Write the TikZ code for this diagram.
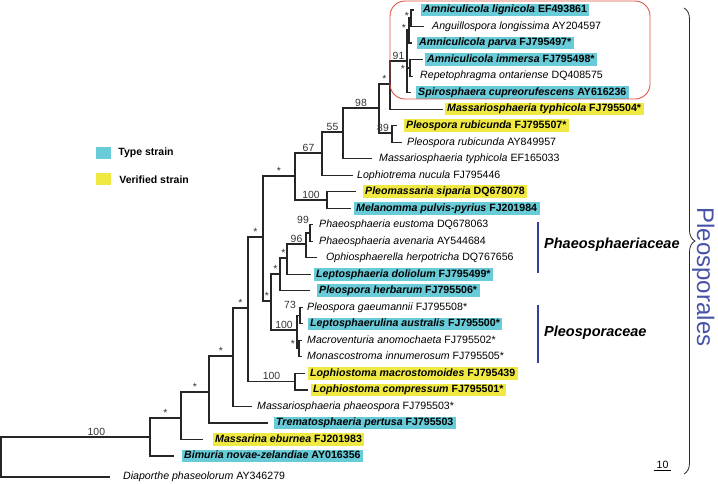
\documentclass[tikz,border=0pt]{standalone}
\usepackage{fontspec}
\setmainfont{Liberation Sans}
\usepackage{tikz}
\usetikzlibrary{positioning, calc, decorations.pathreplacing}

\definecolor{typecyan}{RGB}{104,203,216}
\definecolor{veryellow}{RGB}{240,233,66}
\definecolor{cladered}{RGB}{222,84,72}
\definecolor{famblue}{RGB}{52,64,158}
\definecolor{ordblue}{RGB}{72,82,166}

\newcommand{\leaffont}{\fontsize{10.6}{12}\selectfont}
\newcommand{\supfont}{\fontsize{10.4}{12}\selectfont}
\newcommand{\taxon}[2]{\textit{#1} #2}
\newcommand{\taxonb}[2]{\textbf{\textit{#1} #2}}

\begin{document}
\begin{tikzpicture}[x=1pt, y=-1pt,
    branch/.style={line width=1.1pt, draw=black!85},
    leaf/.style={anchor=west, inner xsep=2.5pt, inner ysep=1.3pt,
      text height=7.9pt, text depth=2.2pt, font=\leaffont},
    typeleaf/.style={leaf, fill=typecyan},
    verleaf/.style={leaf, fill=veryellow},
    support/.style={font=\supfont, text=black!80, inner sep=1.2pt, above, pos=.75},
    supportat/.style={font=\supfont, text=black!80, inner sep=0pt},
    famline/.style={line width=2.2pt, draw=famblue},
    famlabel/.style={anchor=west, inner sep=0pt,
      font=\fontsize{14.5}{16}\selectfont\bfseries\itshape},
    swatch/.style={minimum width=15pt, minimum height=12pt, inner sep=0pt},
    keytext/.style={inner sep=0pt, font=\fontsize{10.5}{12}\selectfont\bfseries}]

  \useasboundingbox (0,0) rectangle (718,483);

  % --- Leaves ---
  \node[typeleaf] (l1) at (420.5,10) {\taxonb{Amniculicola lignicola}{EF493861}};
  \node[leaf] (l2) at (429.5,26.5) {\taxon{Anguillospora longissima}{AY204597}};
  \node[typeleaf] (l3) at (416.5,43) {\taxonb{Amniculicola parva}{FJ795497*}};
  \node[typeleaf] (l4) at (424.5,59.6) {\taxonb{Amniculicola immersa}{FJ795498*}};
  \node[leaf] (l5) at (417.5,76.1) {\taxon{Repetophragma ontariense}{DQ408575}};
  \node[typeleaf] (l6) at (415.5,92.6) {\taxonb{Spirosphaera cupreorufescens}{AY616236}};
  \node[verleaf] (l7) at (444.5,109.1) {\taxonb{Massariosphaeria typhicola}{FJ795504*}};
  \node[verleaf] (l8) at (403.5,125.6) {\taxonb{Pleospora rubicunda}{FJ795507*}};
  \node[leaf] (l9) at (404.5,142.2) {\taxon{Pleospora rubicunda}{AY849957}};
  \node[leaf] (l10) at (376.5,158.7) {\taxon{Massariosphaeria typhicola}{EF165033}};
  \node[leaf] (l11) at (354.5,175.2) {\taxon{Lophiotrema nucula}{FJ795446}};
  \node[verleaf] (l12) at (362.5,191.7) {\taxonb{Pleomassaria siparia}{DQ678078}};
  \node[typeleaf] (l13) at (353.5,208.2) {\taxonb{Melanomma pulvis-pyrius}{FJ201984}};
  \node[leaf] (l14) at (316.5,224.8) {\taxon{Phaeosphaeria eustoma}{DQ678063}};
  \node[leaf] (l15) at (316.5,241.3) {\taxon{Phaeosphaeria avenaria}{AY544684}};
  \node[leaf] (l16) at (323.5,257.8) {\taxon{Ophiosphaerella herpotricha}{DQ767656}};
  \node[typeleaf] (l17) at (313.5,274.3) {\taxonb{Leptosphaeria doliolum}{FJ795499*}};
  \node[typeleaf] (l18) at (316.5,290.8) {\taxonb{Pleospora herbarum}{FJ795506*}};
  \node[leaf] (l19) at (304.5,307.4) {\taxon{Pleospora gaeumannii}{FJ795508*}};
  \node[typeleaf] (l20) at (307.5,323.9) {\taxonb{Leptosphaerulina australis}{FJ795500*}};
  \node[leaf] (l21) at (304.5,340.4) {\taxon{Macroventuria anomochaeta}{FJ795502*}};
  \node[leaf] (l22) at (304.5,356.9) {\taxon{Monascostroma innumerosum}{FJ795505*}};
  \node[verleaf] (l23) at (307.5,373.4) {\taxonb{Lophiostoma macrostomoides}{FJ795439}};
  \node[verleaf] (l24) at (310.5,390) {\taxonb{Lophiostoma compressum}{FJ795501*}};
  \node[leaf] (l25) at (254.5,406.5) {\taxon{Massariosphaeria phaeospora}{FJ795503*}};
  \node[typeleaf] (l26) at (273.5,423) {\taxonb{Trematosphaeria pertusa}{FJ795503}};
  \node[verleaf] (l27) at (212.5,439.5) {\taxonb{Massarina eburnea}{FJ201983}};
  \node[typeleaf] (l28) at (181.5,456) {\taxonb{Bimuria novae-zelandiae}{AY016356}};
  \node[leaf] (l29) at (120.5,477) {\taxon{Diaporthe phaseolorum}{AY346279}};

  % --- Branch tips (ends of the leaf branches) ---
  \foreach \i/\x in {1/414, 2/424, 3/412, 4/423, 5/413, 6/411, 7/443, 8/397,
      9/402, 10/372, 11/353, 12/356, 13/351, 14/313, 15/313, 16/317, 17/311,
      18/310, 19/303, 20/303, 21/302, 22/302, 23/305, 24/308, 25/252, 26/268,
      27/203, 28/174, 29/110}{
    \coordinate (t\i) at (\x,0 |- l\i.west);
  }

  % --- Internal nodes ---
  \coordinate (root) at (1,457);
  \coordinate (ca) at (150,437);
  \coordinate (cb) at (181,418);
  \coordinate (cc) at (209,392);
  \coordinate (cd) at (233,356);
  \coordinate (ce) at (248,308);
  \coordinate (loph) at (295,381.7);
  \coordinate (n2) at (263,237);
  \coordinate (g) at (295,176);
  \coordinate (g100) at (327,200);
  \coordinate (g67) at (322,153);
  \coordinate (g55) at (343,132);
  \coordinate (g98) at (379,108);
  \coordinate (g89) at (392,133);
  \coordinate (gs) at (390,84);
  \coordinate (q91) at (407,61);
  \coordinate (qa) at (409,30);
  \coordinate (qa1) at (411,18);
  \coordinate (qb) at (410,68);
  \coordinate (h) at (271,301);
  \coordinate (n3) at (280,274);
  \coordinate (n4) at (287,258);
  \coordinate (n5) at (306,244);
  \coordinate (n6) at (310,233);
  \coordinate (p100) at (297,330);
  \coordinate (p73) at (300,315.6);
  \coordinate (pst) at (299,348.7);

  % --- Backbone ---
  \draw[branch] (root) |- node[support, pos=.82] {100} (ca);
  \draw[branch] (root) |- (t29);
  \draw[branch] (ca) |- node[support] {*} (cb);
  \draw[branch] (ca) |- (t28);
  \draw[branch] (cb) |- node[support] {*} (cc);
  \draw[branch] (cb) |- (t27);
  \draw[branch] (cc) |- node[support] {*} (cd);
  \draw[branch] (cc) |- (t26);
  \draw[branch] (cd) |- node[support] {*} (ce);
  \draw[branch] (cd) |- (t25);
  \draw[branch] (ce) |- node[support] {*} (n2);
  \draw[branch] (ce) |- node[support] {100} (loph);
  \draw[branch] (loph) |- (t23);
  \draw[branch] (loph) |- (t24);
  \draw[branch] (n2) |- node[support] {*} (g);
  \draw[branch] (n2) |- node[support] {*} (h);

  % --- Upper clade ---
  \draw[branch] (g) |- node[support] {67} (g67);
  \draw[branch] (g) |- node[support] {100} (g100);
  \draw[branch] (g100) |- (t12);
  \draw[branch] (g100) |- (t13);
  \draw[branch] (g67) |- node[support] {55} (g55);
  \draw[branch] (g67) |- (t11);
  \draw[branch] (g55) |- node[support] {98} (g98);
  \draw[branch] (g55) |- (t10);
  \draw[branch] (g98) |- node[support] {*} (gs);
  \draw[branch] (g98) |- node[support, xshift=-2.5pt] {89} (g89);
  \draw[branch] (g89) |- (t8);
  \draw[branch] (g89) |- (t9);
  \draw[branch] (gs) |- node[support] {91} (q91);
  \draw[branch] (gs) |- (t7);
  \draw[branch] (q91) |- (qa);
  \draw[branch] (q91) |- (qb);
  \draw[branch] (q91) |- (t6);
  \draw[branch] (qa) |- (qa1);
  \draw[branch] (qa) |- (t3);
  \draw[branch] (qa1) |- (t1);
  \draw[branch] (qa1) |- (t2);
  \draw[branch] (qb) |- (t4);
  \draw[branch] (qb) |- (t5);

  % --- Lower clade ---
  \draw[branch] (h) |- node[support] {*} (n3);
  \draw[branch] (h) |- node[support] {100} (p100);
  \draw[branch] (n3) |- node[support] {*} (n4);
  \draw[branch] (n3) |- (t18);
  \draw[branch] (n4) |- node[support] {96} (n5);
  \draw[branch] (n4) |- (t17);
  \draw[branch] (n5) |- (n6);
  \draw[branch] (n5) |- (t16);
  \draw[branch] (n6) |- (t14);
  \draw[branch] (n6) |- (t15);
  \draw[branch] (p100) |- (p73);
  \draw[branch] (p100) |- (pst);
  \draw[branch] (p73) |- (t19);
  \draw[branch] (p73) |- (t20);
  \draw[branch] (pst) |- (t21);
  \draw[branch] (pst) |- (t22);

  % --- Supports on the short branches ---
  \node[supportat] at (407,16.2) {*};
  \node[supportat] at (404,28.2) {*};
  \node[supportat] at (403,69.2) {*};
  \node[supportat] at (303,220) {99};
  \node[supportat] at (290,305) {73};
  \node[supportat] at (293,344.2) {*};

  % --- Highlighted clade ---
  \draw[cladered, line width=0.9pt, rounded corners=15pt]
    (390,1) rectangle (650,99);

  % --- Families ---
  \draw[famline] (538,222) -- (538,273);
  \node[famlabel] (phaeo) at (544,245) {Phaeosphaeriaceae};
  \draw[famline] (538,305) -- (538,363);
  \node[famlabel] (pleo) at (544,333) {Pleosporaceae};

  % --- Order brace ---
  \draw[black!85, line width=0.8pt, decorate,
    decoration={brace, amplitude=11pt}] (684,8) -- (684,474);
  \node[rotate=-90, anchor=base, inner sep=0pt, text=ordblue,
    font=\fontsize{24}{28}\selectfont] (order) at (697,277) {Pleosporales};

  % --- Scale bar ---
  \draw[line width=0.8pt] (654,470) -- node[above, inner sep=1.5pt, font=\leaffont] (scale) {10} (671,470);

  % --- Legend ---
  \node[swatch, fill=typecyan] (typekey) at (103.5,153) {};
  \node[keytext, right=7pt of typekey] (typetext) {Type strain};
  \node[swatch, fill=veryellow, below=14pt of typekey] (verkey) {};
  \node[keytext, right=8pt of verkey] (vertext) {Verified strain};

\end{tikzpicture}
\end{document}
